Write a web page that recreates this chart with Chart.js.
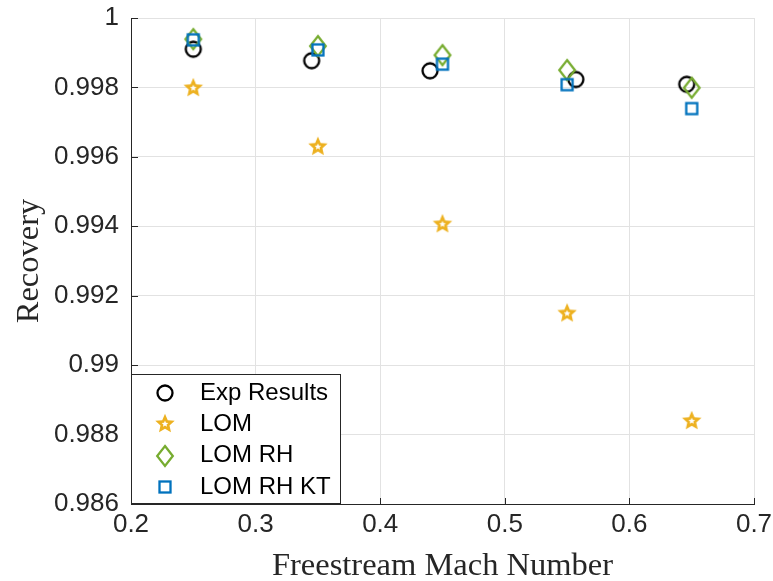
<!DOCTYPE html>
<html>
<head>
<meta charset="utf-8">
<script src="https://cdn.jsdelivr.net/npm/chart.js@4.4.1/dist/chart.umd.min.js"></script>
<style>
  html, body { margin: 0; padding: 0; background: #fff; }
  canvas { display: block; }
</style>
</head>
<body>
<canvas id="recoveryChart" width="773" height="581"></canvas>
<script>
// series names (legend order)
const seriesNames = ['Exp Results', 'LOM', 'LOM RH', 'LOM RH KT'];

// experimental points
const expMach = [0.25, 0.345, 0.44, 0.557, 0.646];
const expRecovery = [0.99910, 0.99877, 0.99848, 0.99823, 0.99809];

// model points
const lomMach = [0.25, 0.35, 0.45, 0.55, 0.65];
const lomRecovery = [0.99798, 0.99629, 0.99406, 0.99149, 0.98839];
const lomRhRecovery = [0.99939, 0.99919, 0.99893, 0.99850, 0.99799];
const lomRhKtRecovery = [0.99937, 0.99908, 0.99867, 0.99808, 0.99739];

// tick labels
const xTicks = [0.2, 0.3, 0.4, 0.5, 0.6, 0.7];
const yTicks = [0.986, 0.988, 0.99, 0.992, 0.994, 0.996, 0.998, 1];

const toPoints = (xs, ys) => xs.map((x, i) => ({ x: x, y: ys[i] }));

// marker images (MATLAB-like outline markers)
function makeMarker(draw) {
    const c = document.createElement('canvas');
    c.width = 28;
    c.height = 28;
    const g = c.getContext('2d');
    g.translate(14, 14);
    draw(g);
    return c;
}

function starPath(g, R, r) {
    g.beginPath();
    for (let i = 0; i < 10; i++) {
        const rad = i % 2 === 0 ? R : r;
        const a = -Math.PI / 2 + i * Math.PI / 5;
        if (i === 0) g.moveTo(rad * Math.cos(a), rad * Math.sin(a));
        else g.lineTo(rad * Math.cos(a), rad * Math.sin(a));
    }
    g.closePath();
}

const circleMarker = makeMarker(g => {
    g.beginPath();
    g.arc(0, 0, 7.5, 0, Math.PI * 2);
    g.lineWidth = 2.3;
    g.strokeStyle = '#000000';
    g.stroke();
});

const starMarker = makeMarker(g => {
    starPath(g, 10.2, 4.7);
    g.fillStyle = '#EDB120';
    g.fill();
    starPath(g, 3.5, 1.6);
    g.fillStyle = '#ffffff';
    g.fill();
});

const diamondMarker = makeMarker(g => {
    g.beginPath();
    g.moveTo(0, -10);
    g.lineTo(7.8, 0);
    g.lineTo(0, 10);
    g.lineTo(-7.8, 0);
    g.closePath();
    g.lineWidth = 2.3;
    g.strokeStyle = '#77AC30';
    g.stroke();
});

const squareMarker = makeMarker(g => {
    g.lineWidth = 2.3;
    g.strokeStyle = '#0072BD';
    g.strokeRect(-5.5, -5.5, 11, 11);
});

// inward tick marks on left / bottom axes
const inwardTicks = {
    id: 'inwardTicks',
    beforeDatasetsDraw(chart) {
        const { ctx, chartArea, scales } = chart;
        ctx.save();
        ctx.strokeStyle = '#262626';
        ctx.lineWidth = 1;
        ctx.beginPath();
        xTicks.forEach(v => {
            const px = Math.round(scales.x.getPixelForValue(v)) + 0.5;
            ctx.moveTo(px, chartArea.bottom);
            ctx.lineTo(px, chartArea.bottom - 6);
        });
        yTicks.forEach(v => {
            const py = Math.round(scales.y.getPixelForValue(v)) + 0.5;
            ctx.moveTo(chartArea.left, py);
            ctx.lineTo(chartArea.left + 7, py);
        });
        ctx.stroke();
        ctx.restore();
    }
};

// boxed legend in lower left corner
const boxLegend = {
    id: 'boxLegend',
    afterDraw(chart) {
        const { ctx, chartArea } = chart;
        const left = chartArea.left, bottom = chartArea.bottom;
        const w = 209, h = 130, rowH = 31.3;
        ctx.save();
        ctx.fillStyle = '#ffffff';
        ctx.fillRect(left, bottom - h, w, h);
        ctx.strokeStyle = '#262626';
        ctx.lineWidth = 1;
        ctx.strokeRect(left + 0.5, bottom - h + 0.5, w, h - 1);
        ctx.font = '24px "Liberation Sans", Arial, sans-serif';
        ctx.fillStyle = '#000000';
        ctx.textBaseline = 'middle';
        chart.data.datasets.forEach((ds, i) => {
            const y = bottom - h + 19 + i * rowH;
            ctx.drawImage(ds.pointStyle, left + 34 - 14, Math.round(y) - 14);
            ctx.fillText(ds.label, left + 69, y);
        });
        ctx.restore();
    }
};

// keep chart area fixed: no extra label padding from the scales
function fixPadding(s) {
    s.paddingLeft = 0;
    s.paddingRight = 0;
    s.paddingTop = 0;
    s.paddingBottom = 0;
}

const tickFont = { family: '"Liberation Sans", Arial, sans-serif', size: 26 };
const titleFont = { family: '"Liberation Serif", "Times New Roman", serif', size: 32.5, lineHeight: 0.9 };

new Chart(document.getElementById('recoveryChart'), {
    type: 'scatter',
    data: {
        datasets: [
            { label: seriesNames[0], data: toPoints(expMach, expRecovery), pointStyle: circleMarker, pointRadius: 8, order: 4 },
            { label: seriesNames[1], data: toPoints(lomMach, lomRecovery), pointStyle: starMarker, pointRadius: 8, order: 3 },
            { label: seriesNames[2], data: toPoints(lomMach, lomRhRecovery), pointStyle: diamondMarker, pointRadius: 8, order: 2 },
            { label: seriesNames[3], data: toPoints(lomMach, lomRhKtRecovery), pointStyle: squareMarker, pointRadius: 8, order: 1 }
        ]
    },
    options: {
        responsive: false,
        animation: false,
        devicePixelRatio: 1,
        layout: { padding: { left: 0, top: 18, right: 19, bottom: 0 } },
        plugins: {
            legend: { display: false },
            tooltip: { enabled: false }
        },
        scales: {
            x: {
                type: 'linear',
                min: 0.2,
                max: 0.7,
                afterBuildTicks: s => { s.ticks = xTicks.map(v => ({ value: v })); },
                afterFit: s => { s.height = 77; fixPadding(s); },
                grid: { color: '#e2e2e2', drawTicks: false },
                border: { color: '#262626' },
                ticks: {
                    padding: 5,
                    font: tickFont,
                    color: '#262626',
                    maxRotation: 0,
                    autoSkip: false,
                    callback: v => String(+v.toFixed(1))
                },
                title: {
                    display: true,
                    text: 'Freestream Mach Number',
                    font: titleFont,
                    color: '#262626',
                    padding: 0
                }
            },
            y: {
                type: 'linear',
                min: 0.986,
                max: 1,
                afterBuildTicks: s => { s.ticks = yTicks.map(v => ({ value: v })); },
                afterFit: s => { s.width = 131; fixPadding(s); },
                grid: { color: '#e2e2e2', drawTicks: false },
                border: { color: '#262626' },
                ticks: {
                    padding: 12,
                    font: tickFont,
                    color: '#262626',
                    autoSkip: false,
                    callback: v => String(+v.toFixed(3))
                },
                title: {
                    display: true,
                    text: 'Recovery',
                    font: titleFont,
                    color: '#262626',
                    padding: { top: 15, bottom: 0 }
                }
            }
        }
    },
    plugins: [inwardTicks, boxLegend]
});
</script>
</body>
</html>
